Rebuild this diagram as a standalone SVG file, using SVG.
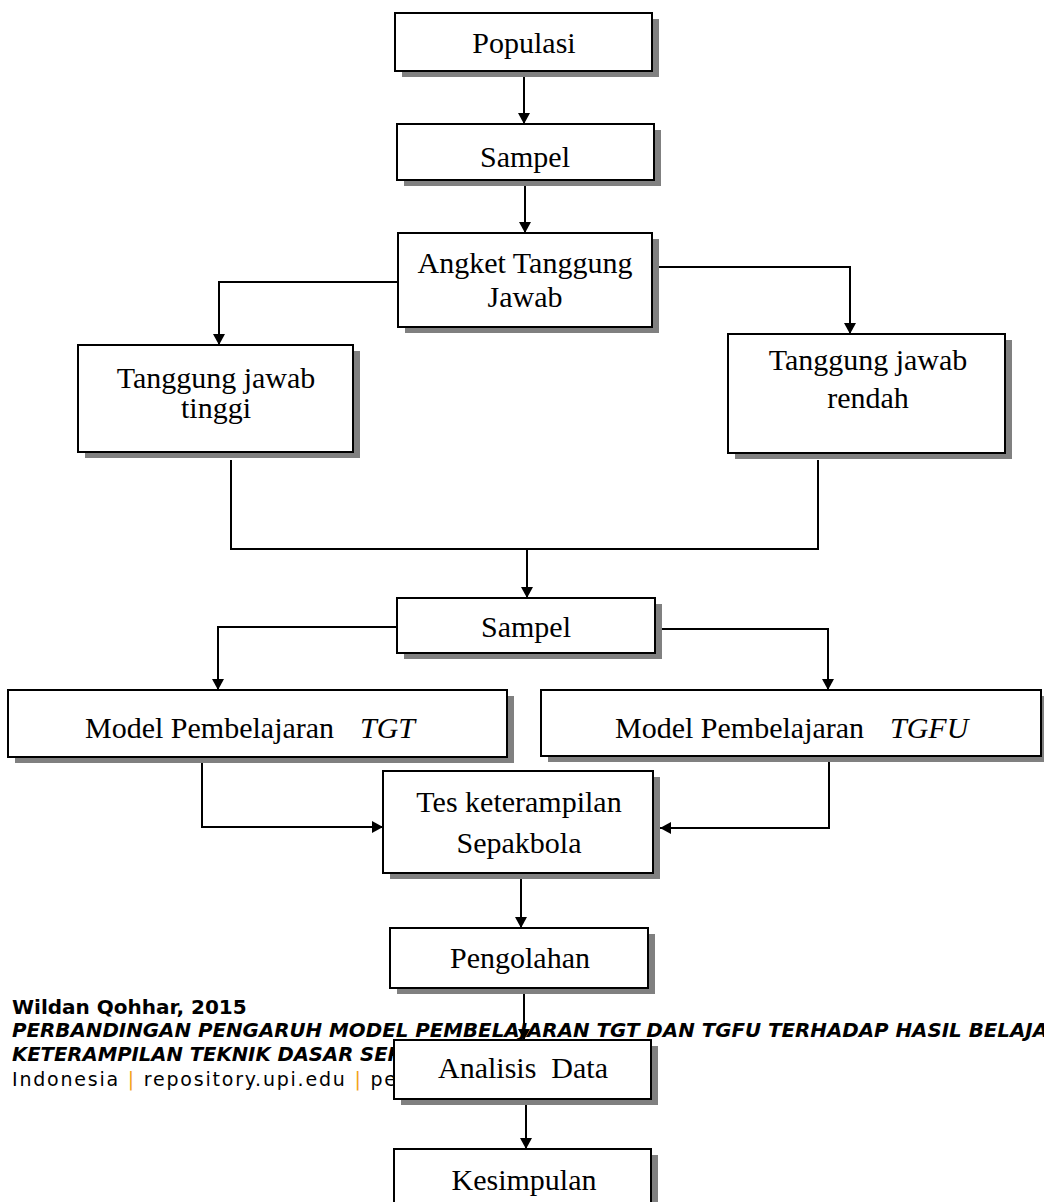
<svg xmlns="http://www.w3.org/2000/svg" width="1044" height="1202" viewBox="0 0 1044 1202">
<defs>
<marker id="ah" markerUnits="userSpaceOnUse" markerWidth="12" markerHeight="12" refX="11" refY="6" orient="auto">
<path d="M0,0 L11,6 L0,12 z" fill="#000"/>
</marker>
<style>
.sh{fill:#808080}
.bx{fill:#fff;stroke:#000;stroke-width:2}
.lb{font-family:"Liberation Serif","Times New Roman",serif;font-size:30px;fill:#000;text-anchor:middle}
.lbs{font-family:"Liberation Serif","Times New Roman",serif;font-size:30px;fill:#000}
.it{font-style:italic}
.cn{fill:none;stroke:#000;stroke-width:2}
.ar{marker-end:url(#ah)}
.ft{font-family:"DejaVu Sans",Verdana,sans-serif;fill:#000}
.bar{fill:#f2a31b}
</style>
</defs>
<rect width="1044" height="1202" fill="#fff"/>

<g id="footer">
<text class="ft" x="12" y="1014" font-size="20" font-weight="bold">Wildan Qohhar, 2015</text>
<text class="ft" x="12" y="1037" font-size="19" font-weight="bold" font-style="italic" textLength="1036" lengthAdjust="spacingAndGlyphs">PERBANDINGAN PENGARUH MODEL PEMBELAJARAN TGT DAN TGFU TERHADAP HASIL BELAJA</text>
<text class="ft" x="12" y="1061" font-size="19" font-weight="bold" font-style="italic" textLength="390" lengthAdjust="spacingAndGlyphs">KETERAMPILAN TEKNIK DASAR SEP</text>
<text class="ft" x="12" y="1086" font-size="19" textLength="384" lengthAdjust="spacing">Indonesia <tspan class="bar">|</tspan> repository.upi.edu <tspan class="bar">|</tspan> pe</text>
</g>

<g id="connectors">
<path class="cn ar" d="M524,71 V124"/>
<path class="cn ar" d="M525,180 V233"/>
<path class="cn ar" d="M398,282 H219 V345"/>
<path class="cn ar" d="M652,267 H850 V334"/>
<path class="cn" d="M231,460 V549 H818 V460"/>
<path class="cn ar" d="M527,549 V598"/>
<path class="cn ar" d="M397,627 H218 V690"/>
<path class="cn ar" d="M660,629 H828 V690"/>
<path class="cn ar" d="M202,762 V827 H383"/>
<path class="cn ar" d="M829,762 V828 H660"/>
<path class="cn ar" d="M521,878 V928"/>
<path class="cn ar" d="M524,988 V1040"/>
<path class="cn ar" d="M526,1099 V1149"/>
</g>

<g id="populasi">
<rect class="sh" x="402" y="19" width="257" height="58"/>
<rect class="bx" x="395" y="13" width="257" height="58"/>
<text class="lb" x="524" y="53">Populasi</text>
</g>
<g id="sampel1">
<rect class="sh" x="404" y="130" width="257" height="56"/>
<rect class="bx" x="397" y="124" width="257" height="56"/>
<text class="lb" x="525" y="167">Sampel</text>
</g>
<g id="angket">
<rect class="sh" x="405" y="239" width="254" height="94"/>
<rect class="bx" x="398" y="233" width="254" height="94"/>
<text class="lb" x="525" y="273">Angket Tanggung</text>
<text class="lb" x="525" y="307">Jawab</text>
</g>
<g id="tinggi">
<rect class="sh" x="85" y="351" width="275" height="107"/>
<rect class="bx" x="78" y="345" width="275" height="107"/>
<text class="lb" x="216" y="388">Tanggung jawab</text>
<text class="lb" x="216" y="418">tinggi</text>
</g>
<g id="rendah">
<rect class="sh" x="735" y="340" width="277" height="119"/>
<rect class="bx" x="728" y="334" width="277" height="119"/>
<text class="lb" x="868" y="370">Tanggung jawab</text>
<text class="lb" x="868" y="408">rendah</text>
</g>
<g id="sampel2">
<rect class="sh" x="404" y="604" width="258" height="55"/>
<rect class="bx" x="397" y="598" width="258" height="55"/>
<text class="lb" x="526" y="637">Sampel</text>
</g>
<g id="tgt">
<rect class="sh" x="15" y="696" width="499" height="67"/>
<rect class="bx" x="8" y="690" width="499" height="67"/>
<text class="lbs" x="85" y="738">Model Pembelajaran <tspan class="it" x="360">TGT</tspan></text>
</g>
<g id="tgfu">
<rect class="sh" x="548" y="696" width="500" height="66"/>
<rect class="bx" x="541" y="690" width="500" height="66"/>
<text class="lbs" x="615" y="738">Model Pembelajaran <tspan class="it" x="890">TGFU</tspan></text>
</g>
<g id="tes">
<rect class="sh" x="390" y="777" width="270" height="102"/>
<rect class="bx" x="383" y="771" width="270" height="102"/>
<text class="lb" x="519" y="812">Tes keterampilan</text>
<text class="lb" x="519" y="853">Sepakbola</text>
</g>
<g id="pengolahan">
<rect class="sh" x="397" y="934" width="258" height="60"/>
<rect class="bx" x="390" y="928" width="258" height="60"/>
<text class="lb" x="520" y="968">Pengolahan</text>
</g>
<g id="analisis">
<rect class="sh" x="401" y="1046" width="257" height="59"/>
<rect class="bx" x="394" y="1040" width="257" height="59"/>
<text class="lb" x="523" y="1078" xml:space="preserve">Analisis  Data</text>
</g>
<g id="kesimpulan">
<rect class="sh" x="401" y="1155" width="257" height="70"/>
<rect class="bx" x="394" y="1149" width="257" height="70"/>
<text class="lb" x="524" y="1190">Kesimpulan</text>
</g>
</svg>
